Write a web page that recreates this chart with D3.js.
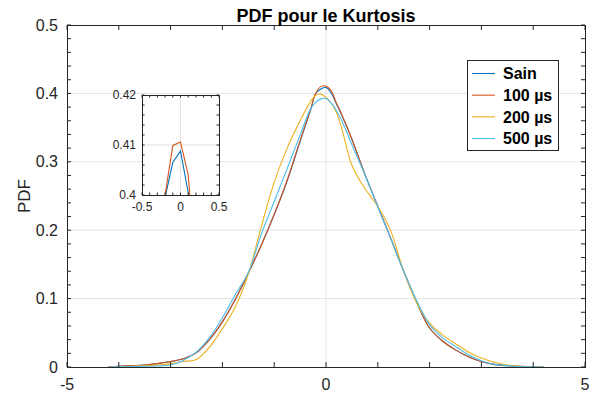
<!DOCTYPE html>
<html>
<head>
<meta charset="utf-8">
<script src="https://cdn.jsdelivr.net/npm/d3@7"></script>
<style>
  html, body { margin: 0; padding: 0; background: #fff; }
  svg { display: block; font-family: "Liberation Sans", Arial, sans-serif; }
</style>
</head>
<body>
<svg id="chart" width="596" height="394"></svg>
<script>
// Kurtosis values at which the densities are evaluated
const kurtosisX = [-4.2, -4, -3.75, -3.5, -3.25, -3, -2.75, -2.5, -2.25, -2, -1.75, -1.5, -1.25, -1, -0.75, -0.5, -0.3, -0.2, -0.1, 0, 0.1, 0.2, 0.3, 0.5, 0.75, 1, 1.25, 1.5, 1.75, 2, 2.25, 2.5, 2.75, 3, 3.25, 3.5, 3.75, 4, 4.2];

// Estimated PDF of each condition
const pdfSain  = [0, 0.001, 0.002, 0.003, 0.005, 0.008, 0.012, 0.021, 0.040, 0.066, 0.099, 0.137, 0.178, 0.223, 0.272, 0.330, 0.375, 0.3995, 0.4065, 0.4088, 0.4005, 0.385, 0.369, 0.333, 0.282, 0.235, 0.188, 0.140, 0.095, 0.057, 0.038, 0.025, 0.015, 0.008, 0.0035, 0.0018, 0.0008, 0.0003, 0];
const pdf100us = [0, 0.001, 0.002, 0.003, 0.005, 0.008, 0.012, 0.021, 0.040, 0.066, 0.099, 0.137, 0.178, 0.223, 0.273, 0.331, 0.376, 0.4000, 0.4099, 0.4106, 0.4040, 0.386, 0.370, 0.333, 0.282, 0.235, 0.188, 0.140, 0.095, 0.057, 0.038, 0.025, 0.015, 0.008, 0.004, 0.002, 0.001, 0.0005, 0];
const pdf200us = [0, 0.0005, 0.001, 0.002, 0.003, 0.005, 0.008, 0.011, 0.029, 0.056, 0.088, 0.136, 0.205, 0.270, 0.320, 0.360, 0.388, 0.397, 0.399, 0.394, 0.386, 0.372, 0.350, 0.295, 0.261, 0.235, 0.199, 0.140, 0.094, 0.064, 0.047, 0.034, 0.022, 0.013, 0.007, 0.003, 0.001, 0.0003, 0];
const pdf500us = [0, 0.0002, 0.0005, 0.001, 0.0015, 0.003, 0.010, 0.022, 0.043, 0.072, 0.106, 0.138, 0.194, 0.242, 0.290, 0.339, 0.377, 0.387, 0.392, 0.3925, 0.386, 0.375, 0.361, 0.325, 0.281, 0.234, 0.188, 0.140, 0.097, 0.062, 0.043, 0.030, 0.018, 0.009, 0.004, 0.002, 0.0008, 0.0002, 0];

const seriesNames = ["Sain", "100 µs", "200 µs", "500 µs"];
const seriesValues = [pdfSain, pdf100us, pdf200us, pdf500us];
const seriesColors = ["#0072BD", "#D95319", "#EDB120", "#4DBEEE"];

// Axis ticks
const mainXTickLabels = [-5, 0, 5];
const mainYTickLabels = [0, 0.1, 0.2, 0.3, 0.4, 0.5];
const insetXTickLabels = [-0.5, 0, 0.5];
const insetYTickLabels = [0.40, 0.41, 0.42];

const series = seriesNames.map((name, i) => ({
  name,
  color: seriesColors[i],
  points: kurtosisX.map((x, j) => ({ x, y: seriesValues[i][j] }))
}));

// plain hyphen-minus for negative tick labels
const fmt = d => d3.format("")(d).replace("\u2212", "-");

const svg = d3.select("#chart");
const axisColor = "#262626";
const gridColor = "#e3e3e3";

// ---------- main axes ----------
const M = { left: 67, right: 585, top: 25, bottom: 367 };
const x = d3.scaleLinear().domain([-5, 5]).range([M.left, M.right]);
const y = d3.scaleLinear().domain([0, 0.5]).range([M.bottom, M.top]);

const defs = svg.append("defs");
defs.append("clipPath").attr("id", "mainClip")
  .append("rect").attr("x", M.left).attr("y", M.top)
  .attr("width", M.right - M.left).attr("height", M.bottom - M.top);

// grid
const grid = svg.append("g");
grid.selectAll("line.gx").data([0]).join("line")
  .attr("x1", d => x(d)).attr("x2", d => x(d))
  .attr("y1", M.top).attr("y2", M.bottom)
  .attr("stroke", gridColor).attr("stroke-width", 1);
grid.selectAll("line.gy").data([0.1, 0.2, 0.3, 0.4]).join("line")
  .attr("x1", M.left).attr("x2", M.right)
  .attr("y1", d => y(d)).attr("y2", d => y(d))
  .attr("stroke", gridColor).attr("stroke-width", 1);

// curves
const mainLine = d3.line().x(d => x(d.x)).y(d => y(d.y)).curve(d3.curveCatmullRom.alpha(0.5));
svg.append("g").attr("clip-path", "url(#mainClip)")
  .selectAll("path").data(series).join("path")
  .attr("d", d => mainLine(d.points))
  .attr("fill", "none").attr("stroke", d => d.color).attr("stroke-width", 1.1);

// ticks on all four sides, pointing inward
const mainXTicks = d3.range(-5, 5.001, 1);
const mainYTicks = d3.range(0, 0.5001, 0.02);
const tk = svg.append("g").attr("stroke", axisColor).attr("stroke-width", 1);
mainXTicks.forEach(t => {
  tk.append("line").attr("x1", x(t)).attr("x2", x(t)).attr("y1", M.bottom).attr("y2", M.bottom - 5);
  tk.append("line").attr("x1", x(t)).attr("x2", x(t)).attr("y1", M.top).attr("y2", M.top + 5);
});
mainYTicks.forEach(t => {
  tk.append("line").attr("y1", y(t)).attr("y2", y(t)).attr("x1", M.left).attr("x2", M.left + 4);
  tk.append("line").attr("y1", y(t)).attr("y2", y(t)).attr("x1", M.right).attr("x2", M.right - 4);
});

svg.append("rect").attr("x", M.left + 0.5).attr("y", M.top + 0.5)
  .attr("width", M.right - M.left).attr("height", M.bottom - M.top)
  .attr("fill", "none").attr("stroke", axisColor).attr("stroke-width", 1);

// tick labels
svg.append("g").selectAll("text").data(mainXTickLabels).join("text")
  .attr("x", d => x(d)).attr("y", 390)
  .attr("text-anchor", "middle").attr("font-size", 16).attr("fill", axisColor)
  .text(fmt);
svg.append("g").selectAll("text").data(mainYTickLabels).join("text")
  .attr("x", 58).attr("y", d => y(d)).attr("dy", "0.35em")
  .attr("text-anchor", "end").attr("font-size", 16).attr("fill", axisColor)
  .text(fmt);

// axis label and title
svg.append("text").attr("transform", `translate(30,${(M.top + M.bottom) / 2}) rotate(-90)`)
  .attr("text-anchor", "middle").attr("font-size", 17).attr("fill", axisColor).text("PDF");
svg.append("text").attr("x", (M.left + M.right) / 2).attr("y", 22)
  .attr("text-anchor", "middle").attr("font-size", 18).attr("font-weight", "bold")
  .attr("fill", "#000").text("PDF pour le Kurtosis");

// ---------- legend ----------
const L = { x: 467, y: 60, w: 91, h: 90 };
const lg = svg.append("g");
lg.append("rect").attr("x", L.x + 0.5).attr("y", L.y + 0.5).attr("width", L.w).attr("height", L.h)
  .attr("fill", "#fff").attr("stroke", axisColor).attr("stroke-width", 1);
const rowY = d3.scalePoint().domain(seriesNames).range([L.y + 13.5, L.y + 78.5]);
const rows = lg.selectAll("g").data(series).join("g")
  .attr("transform", d => `translate(0,${rowY(d.name)})`);
rows.append("line").attr("x1", L.x + 5).attr("x2", L.x + 28)
  .attr("stroke", d => d.color).attr("stroke-width", 1.1);
rows.append("text").attr("x", L.x + 36).attr("dy", "0.36em")
  .attr("font-size", 16).attr("font-weight", "bold").attr("fill", "#000")
  .text(d => d.name);

// ---------- inset (zoom on the peak) ----------
const I = { left: 142, right: 219, top: 95, bottom: 195 };
const xi = d3.scaleLinear().domain([-0.5, 0.5]).range([I.left, I.right]);
const yi = d3.scaleLinear().domain([0.40, 0.42]).range([I.bottom, I.top]);

defs.append("clipPath").attr("id", "insetClip")
  .append("rect").attr("x", I.left).attr("y", I.top)
  .attr("width", I.right - I.left).attr("height", I.bottom - I.top);

const ins = svg.append("g");
ins.append("rect").attr("x", I.left).attr("y", I.top)
  .attr("width", I.right - I.left).attr("height", I.bottom - I.top).attr("fill", "#fff");
ins.append("line").attr("x1", xi(0)).attr("x2", xi(0)).attr("y1", I.top).attr("y2", I.bottom)
  .attr("stroke", gridColor);
ins.append("line").attr("x1", I.left).attr("x2", I.right).attr("y1", yi(0.41)).attr("y2", yi(0.41))
  .attr("stroke", gridColor);

const insetLine = d3.line().x(d => xi(d.x)).y(d => yi(d.y));
ins.append("g").attr("clip-path", "url(#insetClip)")
  .selectAll("path").data(series).join("path")
  .attr("d", d => insetLine(d.points))
  .attr("fill", "none").attr("stroke", d => d.color).attr("stroke-width", 1.1);

const itk = ins.append("g").attr("stroke", axisColor).attr("stroke-width", 1);
d3.range(-0.5, 0.5001, 0.1).forEach(t => {
  itk.append("line").attr("x1", xi(t)).attr("x2", xi(t)).attr("y1", I.bottom).attr("y2", I.bottom - 2.5);
  itk.append("line").attr("x1", xi(t)).attr("x2", xi(t)).attr("y1", I.top).attr("y2", I.top + 2.5);
});
d3.range(0.40, 0.42001, 0.002).forEach(t => {
  itk.append("line").attr("y1", yi(t)).attr("y2", yi(t)).attr("x1", I.left).attr("x2", I.left + 2.5);
  itk.append("line").attr("y1", yi(t)).attr("y2", yi(t)).attr("x1", I.right).attr("x2", I.right - 2.5);
});
ins.append("rect").attr("x", I.left + 0.5).attr("y", I.top + 0.5)
  .attr("width", I.right - I.left).attr("height", I.bottom - I.top)
  .attr("fill", "none").attr("stroke", axisColor).attr("stroke-width", 1);

ins.append("g").selectAll("text").data(insetXTickLabels).join("text")
  .attr("x", d => xi(d)).attr("y", 211)
  .attr("text-anchor", "middle").attr("font-size", 12).attr("fill", axisColor)
  .text(fmt);
ins.append("g").selectAll("text").data(insetYTickLabels).join("text")
  .attr("x", 136).attr("y", d => yi(d)).attr("dy", "0.35em")
  .attr("text-anchor", "end").attr("font-size", 12).attr("fill", axisColor)
  .text(fmt);
</script>
</body>
</html>
